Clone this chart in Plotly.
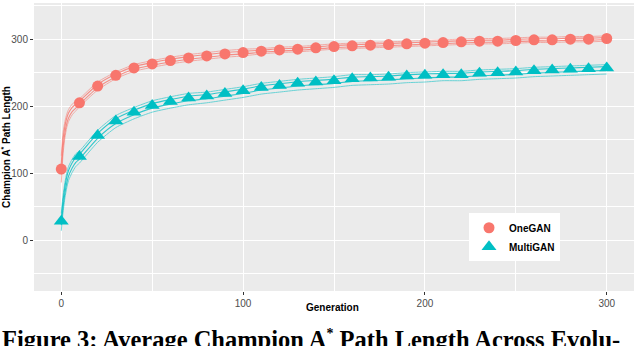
import plotly.graph_objects as go

# generations on the drawn curve (dense at the start, then every 10)
gen_line = [0, 1, 2, 3, 4, 6, 8] + list(range(10, 301, 10))
gen_marks = list(range(0, 301, 10))

one_early = [106, 145, 165, 178, 186, 195, 200]
one_mean = [205, 230, 246, 257, 263, 268, 272, 275, 278, 280,
            282, 284, 285, 287, 289, 290, 291, 292, 293, 294,
            295, 296, 297, 297, 298, 299, 299, 300, 300, 301]
one_spread = [20, 16, 12, 10, 9, 8, 7] + [6, 6, 5, 5, 5, 5, 5, 5, 5, 5,
              4, 4, 4, 4, 4, 4, 4, 4, 4, 4, 4, 4, 4, 4, 4, 4, 4, 4, 4, 4]

multi_early = [28, 55, 75, 90, 100, 112, 120]
multi_mean = [125, 156, 178, 191, 201, 207, 212, 215, 219, 223,
              228, 231, 234, 236, 238, 241, 242, 243, 245, 246,
              247, 247, 249, 250, 251, 253, 254, 255, 256, 257]
multi_up = [12, 12, 11, 10, 10, 9, 9] + [8, 8, 8, 7, 7, 7, 7, 6, 6, 6,
            6, 6, 6, 6, 6, 6, 5, 5, 5, 5, 5, 5, 5, 5, 5, 5, 5, 5, 5, 5]
multi_down = [14, 13, 12, 12, 11, 11, 10] + [10, 10, 10, 10, 10, 10, 10, 10, 10, 10,
              10, 10, 10, 10, 10, 10, 10, 10, 10, 10, 9, 9, 9, 9, 9, 9, 9, 9, 9, 9]

RED = '#F8766D'
TEAL = '#00BFC4'
SANS = 'Liberation Sans, Arial'


def add_series(fig, name, early, mean, up, down, color, symbol, size):
    line_y = early + mean
    mark_y = [early[0]] + mean
    hi = [v + u for v, u in zip(line_y, up)]
    lo = [v - d for v, d in zip(line_y, down)]
    hi2 = [v + u * 0.4 for v, u in zip(line_y, up)]
    lo2 = [v - d * 0.4 for v, d in zip(line_y, down)]
    for band in (hi, lo):
        fig.add_trace(go.Scatter(x=gen_line, y=band, mode='lines', showlegend=False,
                                 line=dict(color=color, width=1, shape='spline', smoothing=0.6),
                                 opacity=0.55, hoverinfo='skip'))
    for band in (hi2, lo2):
        fig.add_trace(go.Scatter(x=gen_line, y=band, mode='lines', showlegend=False,
                                 line=dict(color=color, width=1.1, shape='spline', smoothing=0.6),
                                 opacity=0.8, hoverinfo='skip'))
    fig.add_trace(go.Scatter(x=gen_marks, y=mark_y, mode='markers', name='<b>' + name + '</b>',
                             marker=dict(color=color, symbol=symbol, size=size, line=dict(width=0))))


fig = go.Figure()
add_series(fig, 'OneGAN', one_early, one_mean, one_spread, one_spread, RED, 'circle', 11)
add_series(fig, 'MultiGAN', multi_early, multi_mean, multi_up, multi_down, TEAL, 'triangle-up', 13)

axis_common = dict(showline=False, zeroline=False, ticks='outside', ticklen=3,
                   tickcolor='#333333', tickwidth=1, automargin=False,
                   tickfont=dict(family=SANS, size=10, color='#4D4D4D'),
                   gridcolor='white', gridwidth=1.1)

fig.update_xaxes(range=[-15, 315], tickvals=[0, 100, 200, 300],
                 minor=dict(tickvals=[50, 150, 250], showgrid=True, gridcolor='white', gridwidth=0.5, ticks=''),
                 **axis_common)
fig.update_yaxes(range=[-76, 354], tickvals=[0, 100, 200, 300],
                 minor=dict(tickvals=[-50, 50, 150, 250, 350], showgrid=True, gridcolor='white', gridwidth=0.5, ticks=''),
                 title=dict(text='<b>Champion A<sup>*</sup> Path Length</b>', standoff=2,
                            font=dict(family=SANS, size=10, color='black')),
                 **axis_common)

fig.update_layout(
    width=640, height=346,
    margin=dict(l=34, r=6, t=3, b=55),
    paper_bgcolor='white', plot_bgcolor='#EBEBEB',
    legend=dict(x=0.725, y=0.27, xanchor='left', yanchor='top', bgcolor='white',
                font=dict(family=SANS, size=10, color='black'),
                itemwidth=30, tracegroupgap=0),
    annotations=[
        dict(text='<b>Generation</b>', xref='paper', yref='paper', x=0.498, y=-0.059,
             xanchor='center', yanchor='middle', showarrow=False,
             font=dict(family=SANS, size=10, color='black')),
        dict(text="<b>Figure 3: Average Champion A<sup><span style='font-size:14px'>*</span></sup>"
                  " Path Length Across Evolu-</b>",
             xref='paper', yref='paper', x=-0.057, y=-0.113, xanchor='left', yanchor='top',
             showarrow=False,
             font=dict(family='Liberation Serif, DejaVu Serif', size=24.5, color='black')),
    ],
)

fig.write_html('out.html', config={'displayModeBar': False},
               post_script="document.body.style.margin='0';")
